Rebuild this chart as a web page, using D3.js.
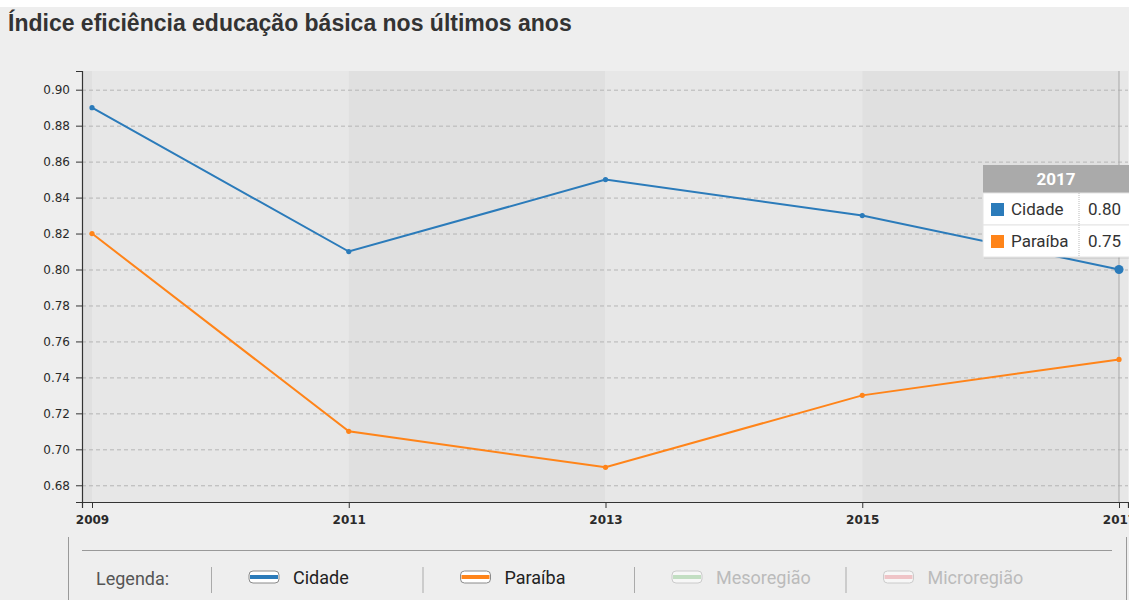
<!DOCTYPE html>
<html>
<head>
<meta charset="utf-8">
<script src="https://cdn.jsdelivr.net/npm/d3@7"></script>
<style>
  body { margin: 0; background: #eeeeee; }
  svg { display: block; }
</style>
</head>
<body>
<div id="graf"></div>
<script>
// Índice eficiência educação básica

anos     = [2009, 2011, 2013, 2015, 2017]
cidade   = [0.89, 0.81, 0.85, 0.83, 0.80]
paraiba  = [0.82, 0.71, 0.69, 0.73, 0.75]
yTicks   = [0.68, 0.70, 0.72, 0.74, 0.76, 0.78, 0.80, 0.82, 0.84, 0.86, 0.88, 0.90]
series   = ['Cidade', 'Paraíba']
legenda  = ['Cidade', 'Paraíba', 'Mesoregião', 'Microregião']
cores    = ['#2b7bba', '#ff8419', '#9fd19f', '#f0a3a9']
ativos   = [true, true, false, false]
anoTip   = 2017

ancho_total = 1129
alto_total  = 600
margins = { top: 71, left: 82, right: 1, bottom: 98 }

svg = d3.select('#graf').append('svg')
        .attr('width', ancho_total)
        .attr('height', alto_total)
        .style('font-family', 'Liberation Sans, Arial, sans-serif')

svg.append('rect')
  .attr('width', ancho_total).attr('height', alto_total)
  .attr('fill', '#eeeeee')
svg.append('rect')
  .attr('width', ancho_total).attr('height', 7)
  .attr('fill', '#ffffff')

svg.append('text')
  .attr('x', 8)
  .attr('y', 31)
  .attr('font-size', '23px')
  .attr('font-weight', 'bold')
  .attr('fill', '#333333')
  .text('Índice eficiência educação básica nos últimos anos')

// Escaladores
x = d3.scaleLinear().domain([2008.922, 2017.07]).range([margins.left, ancho_total - margins.right])
y = d3.scaleLinear().domain([0.6707, 0.9104]).range([alto_total - margins.bottom, margins.top])

x0 = x.range()[0], x1 = x.range()[1]
y0 = y.range()[1], y1 = y.range()[0]

// Bandas
bandas = [[x.domain()[0], anos[0]]]
for (i = 0; i < anos.length - 1; i++) bandas.push([anos[i], anos[i + 1]])
bandas.push([anos[anos.length - 1], x.domain()[1]])

svg.selectAll('rect.banda')
  .data(bandas)
  .enter().append('rect')
    .attr('class', 'banda')
    .attr('x', d => x(d[0]))
    .attr('y', y0)
    .attr('width', d => x(d[1]) - x(d[0]))
    .attr('height', y1 - y0)
    .attr('fill', (d, i) => i % 2 == 0 ? '#e0e0e0' : '#e7e7e7')

// Grade
svg.append('g')
  .attr('transform', `translate(${x0},0)`)
  .call(d3.axisLeft(y).tickValues(yTicks).tickFormat('').tickSize(-(x1 - x0)))
  .call(g => g.select('.domain').remove())
  .call(g => g.selectAll('line')
      .attr('stroke', '#b5b5b5')
      .attr('stroke-dasharray', '4,3'))

// Ejes
yAxis = svg.append('g')
  .attr('transform', `translate(${x0},0)`)
  .call(d3.axisLeft(y).tickValues(yTicks).tickFormat(d3.format('.2f')).tickSizeOuter(6))
xAxis = svg.append('g')
  .attr('transform', `translate(0,${y1})`)
  .call(d3.axisBottom(x).tickValues(anos).tickFormat(d3.format('d')).tickSizeOuter(6))

;[xAxis, yAxis].forEach(a => {
  a.select('.domain').attr('stroke', '#333333').attr('stroke-width', 1.2)
  a.selectAll('line').attr('stroke', '#333333')
  a.selectAll('text')
    .attr('fill', '#2a2a2a')
    .attr('font-family', 'DejaVu Sans, sans-serif')
})
yAxis.selectAll('text').attr('font-size', '12px').attr('x', -12)
xAxis.selectAll('text')
  .attr('font-size', '12px')
  .attr('font-weight', 'bold')
  .attr('dy', '1.05em')

// Linea de hover
svg.append('line')
  .attr('x1', x(anoTip)).attr('x2', x(anoTip))
  .attr('y1', y0).attr('y2', y1)
  .attr('stroke', '#a8a8a8')

// Lineas
linea = d3.line().x(d => x(d.ano)).y(d => y(d.v))
valores = [cidade, paraiba]

valores.forEach((serie, s) => {
  pts = anos.map((a, i) => ({ ano: a, v: serie[i] }))
  svg.append('path')
    .datum(pts)
    .attr('d', linea)
    .attr('fill', 'none')
    .attr('stroke', cores[s])
    .attr('stroke-width', 2)
  svg.selectAll(null)
    .data(pts)
    .enter().append('circle')
      .attr('cx', d => x(d.ano))
      .attr('cy', d => y(d.v))
      .attr('r', d => (s == 0 && d.ano == anoTip) ? 4.5 : 2.6)
      .attr('fill', cores[s])
})

// Tooltip
tx = 983, ty = 165
tip = svg.append('g')
  .attr('transform', `translate(${tx},${ty})`)
  .style('font-family', 'Roboto, sans-serif')

tip.append('rect')
  .attr('x', 1).attr('y', 2)
  .attr('width', 160).attr('height', 92)
  .attr('fill', 'rgba(0,0,0,0.06)')
tip.append('rect')
  .attr('width', 160).attr('height', 28)
  .attr('fill', '#aaaaaa')
tip.append('text')
  .attr('x', 73).attr('y', 20)
  .attr('text-anchor', 'middle')
  .attr('font-size', '17px')
  .attr('font-weight', 'bold')
  .attr('fill', '#ffffff')
  .text(anoTip)

iTip = anos.indexOf(anoTip)
series.forEach((nome, s) => {
  row = tip.append('g').attr('transform', `translate(0,${28 + s * 32})`)
  row.append('rect')
    .attr('width', 160).attr('height', 32)
    .attr('fill', '#ffffff')
    .attr('stroke', '#e4e4e4')
  row.append('rect')
    .attr('x', 8).attr('y', 10)
    .attr('width', 13).attr('height', 13)
    .attr('fill', cores[s])
  row.append('text')
    .attr('x', 28).attr('y', 22)
    .attr('font-size', '17px')
    .attr('fill', '#333333')
    .text(nome)
  row.append('line')
    .attr('x1', 96).attr('x2', 96)
    .attr('y1', 0).attr('y2', 32)
    .attr('stroke', '#bbbbbb')
    .attr('stroke-dasharray', '1,1')
  row.append('text')
    .attr('x', 105).attr('y', 22)
    .attr('font-size', '17px')
    .attr('fill', '#333333')
    .text(d3.format('.2f')(valores[s][iTip]))
})

// Leyenda
leg = svg.append('g').style('font-family', 'Roboto, sans-serif')
leg.append('line')
  .attr('x1', 68.5).attr('x2', 68.5).attr('y1', 537).attr('y2', 600)
  .attr('stroke', '#999999')
leg.append('line')
  .attr('x1', 1126.5).attr('x2', 1126.5).attr('y1', 537).attr('y2', 600)
  .attr('stroke', '#999999')
leg.append('line')
  .attr('x1', 82).attr('x2', 1112).attr('y1', 550.5).attr('y2', 550.5)
  .attr('stroke', '#999999')

leg.append('text')
  .attr('x', 96).attr('y', 585)
  .attr('font-size', '18px')
  .attr('fill', '#555555')
  .text('Legenda:')

legenda.forEach((nome, i) => {
  lx = 211 + i * 211.5
  leg.append('line')
    .attr('x1', lx + 0.5).attr('x2', lx + 0.5)
    .attr('y1', 567).attr('y2', 593)
    .attr('stroke', '#aaaaaa')
  sw = leg.append('g').attr('transform', `translate(${lx + 38},${571})`)
    .attr('opacity', ativos[i] ? 1 : 0.55)
  sw.append('rect')
    .attr('width', 30).attr('height', 12)
    .attr('rx', 4)
    .attr('fill', '#ffffff')
    .attr('stroke', ativos[i] ? '#8a8a8a' : '#b0b0b0')
  sw.append('rect')
    .attr('x', 1).attr('y', 4)
    .attr('width', 28).attr('height', 4)
    .attr('fill', cores[i])
  leg.append('text')
    .attr('x', lx + 82).attr('y', 584)
    .attr('font-size', '18px')
    .attr('fill', ativos[i] ? '#222222' : '#bbbbbb')
    .text(nome)
})
</script>
</body>
</html>
